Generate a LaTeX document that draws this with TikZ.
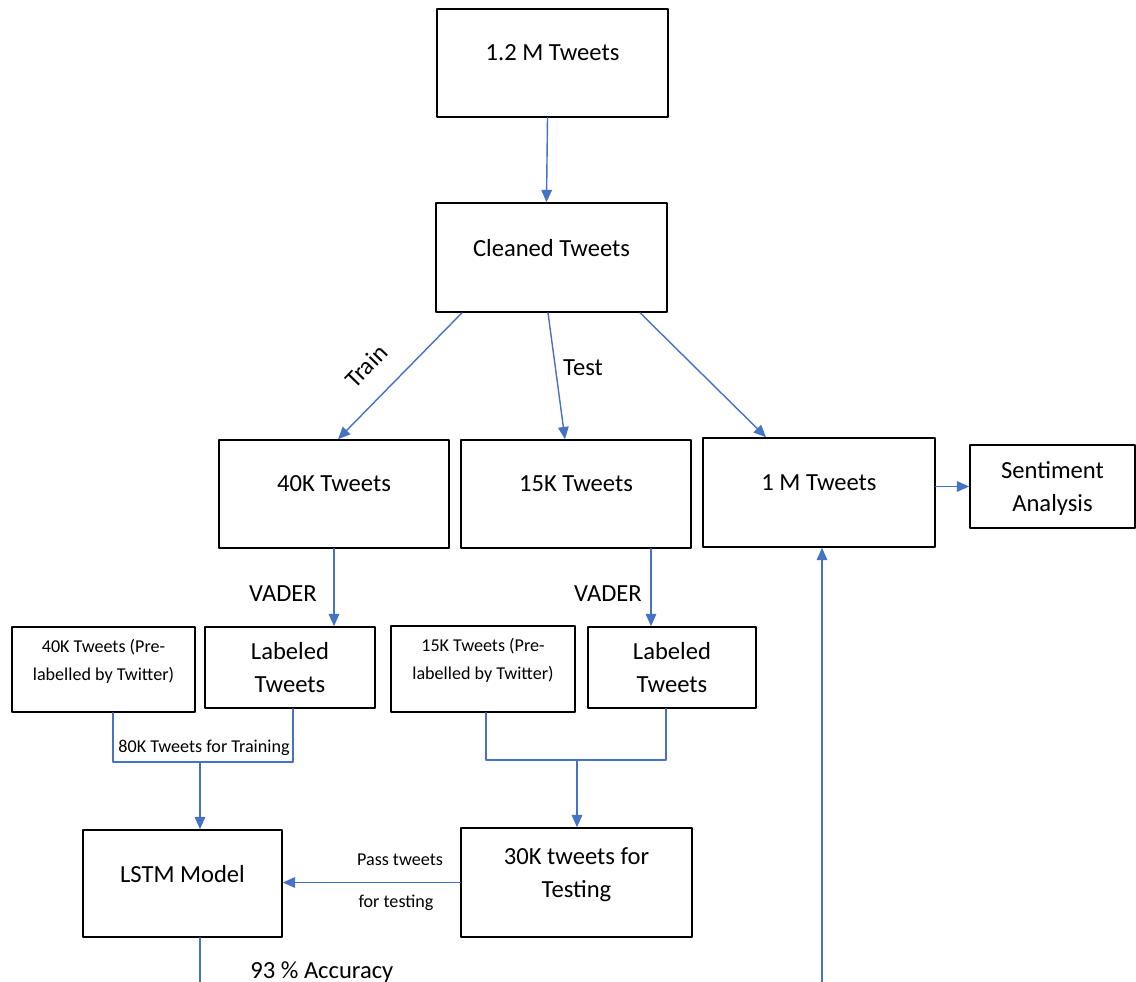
\documentclass[tikz,border=0pt]{standalone}
\usepackage{fontspec}
\setmainfont{Carlito}
\usetikzlibrary{arrows.meta,calc}
\definecolor{wordblue}{HTML}{4472C4}
\newcommand{\smalltxt}{\fontsize{10.3}{16}\selectfont}
\begin{document}
\begin{tikzpicture}[x=0.02cm,y=-0.02cm,line cap=round,line join=round,
	font=\fontsize{14}{19}\selectfont,>={Triangle[length=7pt,width=6pt]},
	box/.style={draw,line width=0.9pt,align=center,inner sep=2pt,text depth=0.4cm},
	tbox/.style={draw,line width=0.9pt,align=center,inner sep=2pt,text depth=0pt},
	link/.style={draw=wordblue,line width=0.8pt}]
	\useasboundingbox (0,0) rectangle (1136,982);
	% boxes
	\node[box,minimum width=4.62cm,minimum height=2.16cm] (t12) at (552.5,63) {1.2 M Tweets};
	\node[box,minimum width=4.62cm,minimum height=2.18cm] (clean) at (551.5,257.5) {Cleaned Tweets};
	\node[box,minimum width=4.60cm,minimum height=2.16cm] (t40) at (334,494) {40K Tweets};
	\node[box,minimum width=4.60cm,minimum height=2.16cm] (t15) at (576,494) {15K Tweets};
	\node[box,minimum width=4.64cm,minimum height=2.18cm] (t1m) at (819,492.5) {1 M Tweets};
	\node[tbox,minimum width=3.30cm,minimum height=1.66cm] (sent) at (1052.5,486.5) {Sentiment\\Analysis};
	\node[box,minimum width=3.66cm,minimum height=1.70cm,font=\smalltxt] (pre40) at (103.5,669.5) {40K Tweets (Pre-\\labelled by Twitter)};
	\node[tbox,minimum width=3.40cm,minimum height=1.62cm] (lab40) at (290,667.5) {Labeled\\Tweets};
	\node[box,minimum width=3.68cm,minimum height=1.72cm,font=\smalltxt] (pre15) at (483,669) {15K Tweets (Pre-\\labelled by Twitter)};
	\node[tbox,minimum width=3.36cm,minimum height=1.62cm] (lab15) at (672,667.5) {Labeled\\Tweets};
	\node[box,minimum width=3.98cm,minimum height=2.14cm] (lstm) at (182.5,883.5) {LSTM Model};
	\node[box,minimum width=4.62cm,minimum height=2.18cm] (t30) at (576.5,882.5) {30K tweets for\\Testing};
	% joints and free ends
	\coordinate (j40) at (200,762);
	\coordinate (j15) at (577,760);
	\coordinate (acc) at (200,990);
	\coordinate (src) at (822,990);
	% connectors
	\draw[link,->] ($(t12.south)+(-5,0)$) -- ($(clean.north)+(-5,0)$);
	\draw[link,->] ($(clean.south)+(-89.5,0)$) -- ($(t40.north)+(4,0)$);
	\draw[link,->] ($(clean.south)+(-3.5,0)$) -- ($(t15.north)+(-11,0)$);
	\draw[link,->] ($(clean.south)+(88.5,0)$) -- ($(t1m.north)+(-53,0)$);
	\draw[link,->] (sent.west -| t1m.east) -- (sent.west);
	\draw[link,->] (t40.south) -- (t40.south |- lab40.north);
	\draw[link,->] ($(t15.south)+(75,0)$) -- ($(lab15.north)+(-21,0)$);
	\draw[link] ($(pre40.south)+(9.5,0)$) |- (j40) -| ($(lab40.south)+(3,0)$);
	\draw[link,->] (j40) -- (j40 |- lstm.north);
	\draw[link] ($(pre15.south)+(3,0)$) |- (j15) -| ($(lab15.south)+(-6,0)$);
	\draw[link,->] (j15) -- (j15 |- t30.north);
	\draw[link,->] (t30.west) -- (t30.west -| lstm.east);
	\draw[link] (acc |- lstm.south) -- (acc);
	\draw[link,->] (src) -- (src |- t1m.south);
	% labels
	\node[rotate=46] (ltrain) at (366,366) {Train};
	\node (ltest) at (583,368) {Test};
	\node (lvader1) at (283,594) {VADER};
	\node (lvader2) at (608,594) {VADER};
	\node[font=\smalltxt] (l80k) at (204,748) {80K Tweets for Training};
	\node[font=\smalltxt] (lpass) at (400,860) {Pass tweets};
	\node[font=\smalltxt] (lfor) at (396,903) {for testing};
	\node[anchor=base west,inner sep=0pt] (lacc) at (250,978) {93 \% Accuracy};
\end{tikzpicture}
\end{document}
